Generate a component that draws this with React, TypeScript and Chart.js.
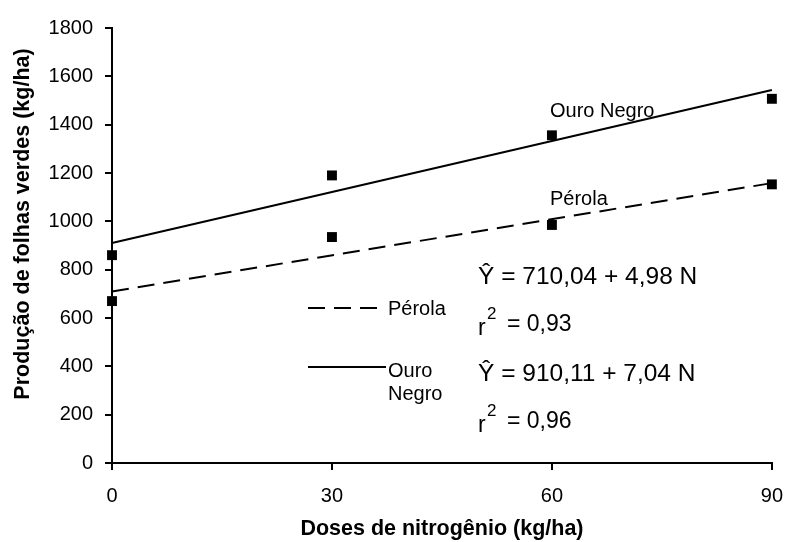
import React, { useEffect, useRef } from "react";
import { Chart, registerables } from "chart.js";

Chart.register(...registerables);

const FONT = "'Liberation Sans', Arial, Helvetica, sans-serif";

// Doses de nitrogênio (kg/ha)
const doses = [0, 30, 60, 90];
// Observed values (kg/ha)
const ouroNegro = [860, 1190, 1356, 1507];
const perola = [670, 935, 985, 1153];
// Fitted regression lines (end points at 0 and 90 kg/ha)
const trendX = [0, 90];
const trendOuroNegro = [910.11, 1543.71];
const trendPerola = [710.04, 1158.24];

const xTitle = "Doses de nitrogênio (kg/ha)";
const yTitle = "Produção de folhas verdes (kg/ha)";
const eqPerola = "Ŷ = 710,04 + 4,98 N";
const r2Perola = "= 0,93";
const eqOuro = "Ŷ = 910,11 + 7,04 N";
const r2Ouro = "= 0,96";

const toPoints = (xs: number[], ys: number[]) => xs.map((x, i) => ({ x, y: ys[i] }));

const annotations = {
  id: "annotations",
  afterDraw(chart: any) {
    const ctx = chart.ctx as CanvasRenderingContext2D;
    ctx.save();
    ctx.fillStyle = "#000";
    ctx.strokeStyle = "#000";

    // Y axis title
    ctx.save();
    ctx.translate(23, 224);
    ctx.rotate(-Math.PI / 2);
    ctx.textAlign = "center";
    ctx.textBaseline = "middle";
    ctx.font = `bold 21.5px ${FONT}`;
    ctx.fillText(yTitle, 0, 0);
    ctx.restore();

    ctx.textAlign = "left";
    ctx.textBaseline = "alphabetic";

    // Series labels near the lines
    ctx.font = `20px ${FONT}`;
    ctx.fillText("Ouro Negro", 550, 117);
    ctx.fillText("Pérola", 550, 205);

    // Legend
    ctx.lineWidth = 2;
    ctx.setLineDash([17, 9]);
    ctx.beginPath();
    ctx.moveTo(308, 308);
    ctx.lineTo(381, 308);
    ctx.stroke();
    ctx.setLineDash([]);
    ctx.beginPath();
    ctx.moveTo(308, 367);
    ctx.lineTo(386, 367);
    ctx.stroke();
    ctx.fillText("Pérola", 388, 315);
    ctx.fillText("Ouro", 388, 377);
    ctx.fillText("Negro", 388, 400);

    // Equations
    ctx.font = `24.5px ${FONT}`;
    ctx.fillText(eqPerola, 478, 284);
    ctx.fillText(eqOuro, 478, 381);

    ctx.font = `23px ${FONT}`;
    ctx.fillText("r", 478, 335);
    ctx.fillText(r2Perola, 507, 331);
    ctx.fillText("r", 478, 432);
    ctx.fillText(r2Ouro, 507, 428);
    ctx.font = `17px ${FONT}`;
    ctx.fillText("2", 487, 319);
    ctx.fillText("2", 487, 416);

    ctx.restore();
  },
};

export default function App() {
  const canvasRef = useRef<HTMLCanvasElement | null>(null);

  useEffect(() => {
    if (!canvasRef.current) return;
    const chart = new Chart(canvasRef.current, {
      type: "scatter",
      data: {
        datasets: [
          {
            label: "Ouro Negro (reta)",
            data: toPoints(trendX, trendOuroNegro),
            showLine: true,
            borderColor: "#000",
            borderWidth: 2,
            pointRadius: 0,
            clip: false,
          } as any,
          {
            label: "Pérola (reta)",
            data: toPoints(trendX, trendPerola),
            showLine: true,
            borderColor: "#000",
            borderWidth: 2,
            borderDash: [17, 9],
            pointRadius: 0,
            clip: false,
          } as any,
          {
            label: "Ouro Negro",
            data: toPoints(doses, ouroNegro),
            pointStyle: "rect",
            pointRadius: 7,
            backgroundColor: "#000",
            borderWidth: 0,
            clip: false,
          } as any,
          {
            label: "Pérola",
            data: toPoints(doses, perola),
            pointStyle: "rect",
            pointRadius: 7,
            backgroundColor: "#000",
            borderWidth: 0,
            clip: false,
          } as any,
        ],
      },
      options: {
        animation: false,
        responsive: true,
        maintainAspectRatio: false,
        layout: { padding: { top: 28, right: 1, left: 0, bottom: 0 } },
        plugins: {
          legend: { display: false },
          tooltip: { enabled: false },
        },
        scales: {
          x: {
            type: "linear",
            min: 0,
            max: 90,
            afterFit: (s: any) => {
              s.height = 79;
            },
            ticks: {
              stepSize: 30,
              color: "#000",
              font: { family: FONT, size: 20, lineHeight: 2.4 },
              padding: 2,
              maxRotation: 0,
              callback: (v: any) => String(v),
            },
            grid: {
              drawOnChartArea: false,
              drawTicks: true,
              tickLength: 7,
              color: "#000",
              lineWidth: 2,
            },
            border: { display: true, color: "#000", width: 2 },
            title: {
              display: true,
              text: xTitle,
              color: "#000",
              font: { family: FONT, size: 21.5, weight: "bold" },
              padding: { top: 0, bottom: 0 },
            },
          },
          y: {
            type: "linear",
            min: 0,
            max: 1800,
            afterFit: (s: any) => {
              s.width = 112;
            },
            ticks: {
              stepSize: 200,
              color: "#000",
              font: { family: FONT, size: 20 },
              padding: 12,
              callback: (v: any) => String(v),
            },
            grid: {
              drawOnChartArea: false,
              drawTicks: true,
              tickLength: 7,
              color: "#000",
              lineWidth: 2,
            },
            border: { display: true, color: "#000", width: 2 },
            title: { display: false },
          },
        },
      } as any,
      plugins: [annotations],
    });
    return () => chart.destroy();
  }, []);

  return (
    <div style={{ position: "absolute", left: 0, top: 0, width: 785, height: 542, background: "#fff" }}>
      <canvas ref={canvasRef} />
    </div>
  );
}
